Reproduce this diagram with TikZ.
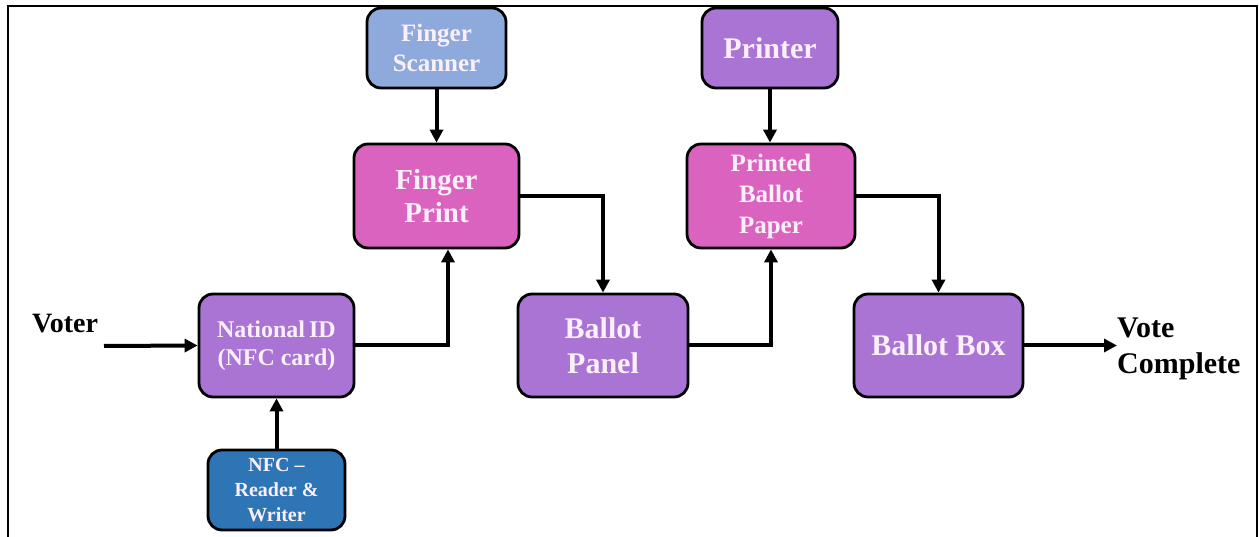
\documentclass[tikz,border=0pt]{standalone}
\usepackage{fontspec}
\setmainfont{Liberation Serif}
\usetikzlibrary{arrows.meta}

\definecolor{scanblue}{HTML}{8EA9DB}
\definecolor{nfcblue}{HTML}{2E75B6}
\definecolor{pinkbox}{HTML}{DA63BF}
\definecolor{purplebox}{HTML}{A974D3}
\definecolor{boxtext}{HTML}{FBF0FA}

\tikzset{
  unit/.style={draw=black, line width=2.8pt, rounded corners=14pt, text=boxtext,
    font=\bfseries, align=center, inner sep=0pt},
  flow/.style={line width=4pt, -{Triangle[length=13pt,width=13pt]}},
  plain/.style={font=\bfseries, align=left, inner sep=0pt}
}

\begin{document}
\begin{tikzpicture}[x=1pt,y=-1pt]
	\useasboundingbox (0,0) rectangle (1259,537);
	\draw[line width=2.2pt] (8,540) -- (8,6) -- (1257,6) -- (1257,540);

	% boxes
	\node[unit, fill=scanblue, minimum width=139pt, minimum height=80pt, font=\fontsize{25}{30}\bfseries]
		(scanner) at (436.5,48) {Finger\\Scanner};
	\node[unit, fill=pinkbox, minimum width=165pt, minimum height=104pt, font=\fontsize{29}{33}\bfseries]
		(fprint) at (436.5,196) {Finger\\Print};
	\node[unit, fill=purplebox, minimum width=136pt, minimum height=80pt, font=\fontsize{30}{33}\bfseries]
		(printer) at (770,48) {Printer};
	\node[unit, fill=pinkbox, minimum width=168pt, minimum height=104pt, font=\fontsize{25}{31}\bfseries]
		(pballot) at (771,196) {Printed\\Ballot\\Paper};
	\node[unit, fill=purplebox, minimum width=155pt, minimum height=103pt, font=\fontsize{24}{28}\bfseries]
		(natid) at (276.5,345.5) {National\hspace{-2pt} ID\\(NFC card)};
	\node[unit, fill=nfcblue, minimum width=137pt, minimum height=80pt, font=\fontsize{20}{25}\bfseries]
		(nfc) at (276.5,490) {NFC --\\Reader \&\\Writer};
	\node[unit, fill=purplebox, minimum width=170pt, minimum height=103pt, font=\fontsize{30}{35}\bfseries]
		(bpanel) at (603,345.5) {Ballot\\Panel};
	\node[unit, fill=purplebox, minimum width=169pt, minimum height=103pt, font=\fontsize{30}{35}\bfseries]
		(bbox) at (938.5,345.5) {Ballot Box};

	% start and end
	\node[plain, font=\fontsize{28}{32}\bfseries] (voter) at (65,324) {Voter};
	\coordinate (vin) at (104,346);
	\node[plain, anchor=west, font=\fontsize{30}{36}\bfseries] (done) at (1117,349) {Vote\\Complete};

	% connectors
	\draw[flow] (vin) -- (natid.west);
	\draw[flow] (nfc.north) -- (natid.south);
	\draw[flow] (natid.east) -| ([xshift=11.5pt]fprint.south);
	\draw[flow] (scanner.south) -- (fprint.north);
	\draw[flow] (fprint.east) -| (bpanel.north);
	\draw[flow] (bpanel.east) -| (pballot.south);
	\draw[flow] (printer.south) -- (printer.south |- pballot.north);
	\draw[flow] (pballot.east) -| (bbox.north);
	\draw[flow] (bbox.east) -- (bbox.east -| done.west);
\end{tikzpicture}
\end{document}
